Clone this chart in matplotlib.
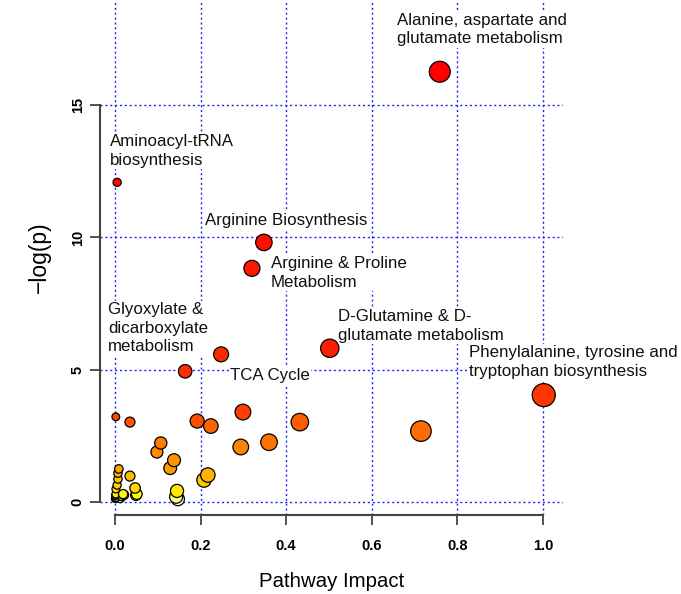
import colorsys
import numpy as np
import matplotlib
matplotlib.use('Agg')
import matplotlib.pyplot as plt

plt.rcParams['font.family'] = ['Liberation Sans', 'DejaVu Sans']

# impact (x) et -log(p) (y)
# (les derniers points sont empiles en bas a gauche, en partie caches)
impact = [0.759, 0.005, 0.348, 0.320, 0.502, 0.164, 0.248, 1.002,
          0.002, 0.299, 0.035, 0.192, 0.432, 0.224, 0.715, 0.107,
          0.360, 0.098, 0.294, 0.138, 0.129, 0.009, 0.217, 0.035,
          0.007, 0.208, 0.007, 0.005, 0.047, 0.002, 0.145, 0.002,
          0.019, 0.051, 0.002, 0.147,
          0.004, 0.021, 0.049, 0.001, 0.016, 0.143, 0.003, 0.012, 0.000]
logp = [16.26, 12.08, 9.81, 8.83, 5.81, 4.94, 5.58, 4.04,
        3.22, 3.40, 3.02, 3.06, 3.02, 2.87, 2.68, 2.23,
        2.26, 1.89, 2.08, 1.58, 1.28, 1.25, 1.02, 0.98,
        1.09, 0.83, 0.87, 0.64, 0.53, 0.49, 0.42, 0.30,
        0.30, 0.30, 0.15, 0.11,
        0.28, 0.27, 0.26, 0.24, 0.22, 0.20, 0.18, 0.14, 0.12]

# voies annotees : (index du point, texte, decalage en pixels)
labels = [
    (0, 'Alanine, aspartate and\nglutamate metabolism', -43, 59),
    (1, 'Aminoacyl-tRNA\nbiosynthesis', -7, 48),
    (2, 'Arginine Biosynthesis', -59, 29),
    (3, 'Arginine & Proline\nMetabolism', 19, 12),
    (4, 'D-Glutamine & D-\nglutamate metabolism', 8, 39),
    (5, 'Glyoxylate &\ndicarboxylate\nmetabolism', -77, 69),
    (6, 'TCA Cycle', 9, -14),
    (7, 'Phenylalanine, tyrosine and\ntryptophan biosynthesis', -75, 50),
]

xticks = [0.0, 0.2, 0.4, 0.6, 0.8, 1.0]
yticks = [0, 5, 10, 15]


# equivalent de heat.colors() de R
def heat_colors(n):
    j = n // 4
    i = n - j
    cols = []
    for k in range(i):
        h = (1 / 6) * k / (i - 1)
        cols.append(colorsys.hsv_to_rgb(h, 1, 1))
    for k in range(j):
        s = 1 - 1 / (2 * j) - k * (1 - 1 / j) / (j - 1)
        cols.append(colorsys.hsv_to_rgb(1 / 6, s, 1))
    return cols


x = np.array(impact)
y = np.array(logp)
n = len(x)
palette = heat_colors(n)
rang = np.argsort(-y, kind='stable')
couleurs = [None] * n
for r, idx in enumerate(rang):
    couleurs[idx] = palette[r]

# rayon en pixels selon l'impact
rayon = 3.5 + 8 * np.sqrt(np.clip(x, 0, None))
taille = (2 * rayon * 0.72) ** 2

fig = plt.figure(figsize=(6.81, 5.94), dpi=100)
ax = fig.add_axes([100 / 681, 1 - 515 / 594, 463 / 681, 515 / 594])

ax.set_xlim(-0.035, 1.047)
ax.set_ylim(-0.49, 18.97)

for v in xticks:
    ax.axvline(v, color='#2020ff', linestyle=(0, (1.5, 2)), linewidth=1, zorder=1)
for v in yticks:
    ax.axhline(v, color='#2020ff', linestyle=(0, (1.5, 2)), linewidth=1, zorder=1)

# les points les plus significatifs sont dessines en dernier
ordre = np.argsort(y, kind='stable')
ax.scatter(x[ordre], y[ordre], s=taille[ordre], c=[couleurs[i] for i in ordre],
           edgecolors='black', linewidths=0.9, zorder=4)

for idx, texte, dx, dy in labels:
    ax.annotate(texte, (x[idx], y[idx]), xytext=(dx, dy), textcoords='offset pixels',
                ha='left', va='top', fontsize=12.2, color='#111111', linespacing=1.3,
                bbox=dict(facecolor='white', edgecolor='none', pad=1), zorder=3)

for s in ['top', 'right']:
    ax.spines[s].set_visible(False)
ax.spines['left'].set_bounds(0, 15)
ax.spines['bottom'].set_bounds(0, 1)
for s in ['left', 'bottom']:
    ax.spines[s].set_color('#444444')
    ax.spines[s].set_linewidth(1.5)

ax.set_xticks(xticks)
ax.set_xticklabels(['%.1f' % v for v in xticks], fontweight='bold', fontsize=10.5)
ax.set_yticks(yticks)
ax.set_yticklabels([str(v) for v in yticks], fontweight='bold', fontsize=10.5,
                   rotation=90, va='center')
ax.tick_params(length=7, width=1.3, color='#444444')
ax.tick_params(axis='x', pad=10)
ax.tick_params(axis='y', pad=4)

ax.set_xlabel('Pathway Impact', fontsize=14.7, labelpad=14)
ax.set_ylabel('\u2212log(p)', fontsize=16.5, labelpad=14)

fig.savefig('out.png', dpi=100)
